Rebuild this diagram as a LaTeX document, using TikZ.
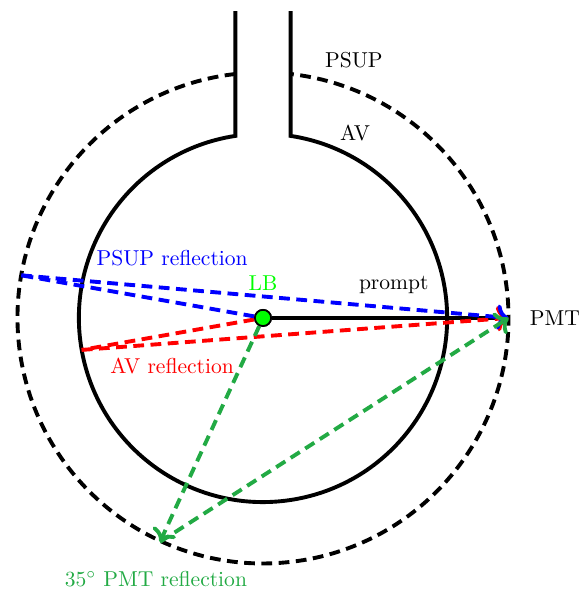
\documentclass[tikz,border=0pt]{standalone}
\usepackage{tikz}
\usetikzlibrary{arrows.meta,positioning,calc}
\usepackage{xcolor}
\definecolor{lbgreen}{HTML}{00FF00}
\definecolor{pmtgreen}{HTML}{22AA44}
\begin{document}
\begin{tikzpicture}[x=0.5cm,y=0.5cm,
  vessel/.style={line width=1.8pt},
  ray/.style={line width=1.8pt, dash pattern=on 5pt off 3pt},
  lbsource/.style={circle, fill=lbgreen, draw=black, line width=0.8pt, minimum size=7.5pt, inner sep=0pt}]
  \useasboundingbox (-8.57,-8.93) rectangle (10.29,10.36);
  % PSUP (dashed) and AV with its neck
  \draw[ray] (96.46:8) arc (96.46:443.54:8);
  \draw[vessel] (-0.9,10) -- (98.63:6) arc (98.63:441.37:6) -- (0.9,10);
  \node at (2.96,8.4) {PSUP};
  \node at (3.0,6.03) {AV};
  % points
  \node[lbsource] (lb) at (0,0) {};
  \node[lbgreen, above=5pt of lb] (lblabel) {LB};
  \coordinate (pmt) at (8,0);
  \node[anchor=west] (pmtlabel) at (8.45,0) {PMT};
  \coordinate (psuprefl) at (170:8);
  \coordinate (avrefl) at (190:6);
  \coordinate (pmtrefl) at (245.3:8.03);
  % rays
  \draw[vessel] (lb) -- (pmt) node[pos=0.515, above=7pt] (promptlabel) {prompt};
  \draw[ray, red] (lb) -- (avrefl);
  \draw[ray, red, ->] (avrefl) -- (pmt);
  \draw[ray, blue] (lb) -- (psuprefl);
  \draw[ray, blue, ->] (psuprefl) -- (pmt);
  \draw[ray, pmtgreen, ->] (lb) -- (pmtrefl);
  \draw[ray, pmtgreen, ->] (pmtrefl) -- (pmt);
  \node[lbsource] at (lb) {};
  \node[blue] (psuplabel) at (-2.96,1.95) {PSUP reflection};
  \node[red] (avlabel) at (-2.96,-1.56) {AV reflection};
  \node[pmtgreen] (pmtrefllabel) at (-3.49,-8.5) {35$^\circ$ PMT reflection};
\end{tikzpicture}
\end{document}
